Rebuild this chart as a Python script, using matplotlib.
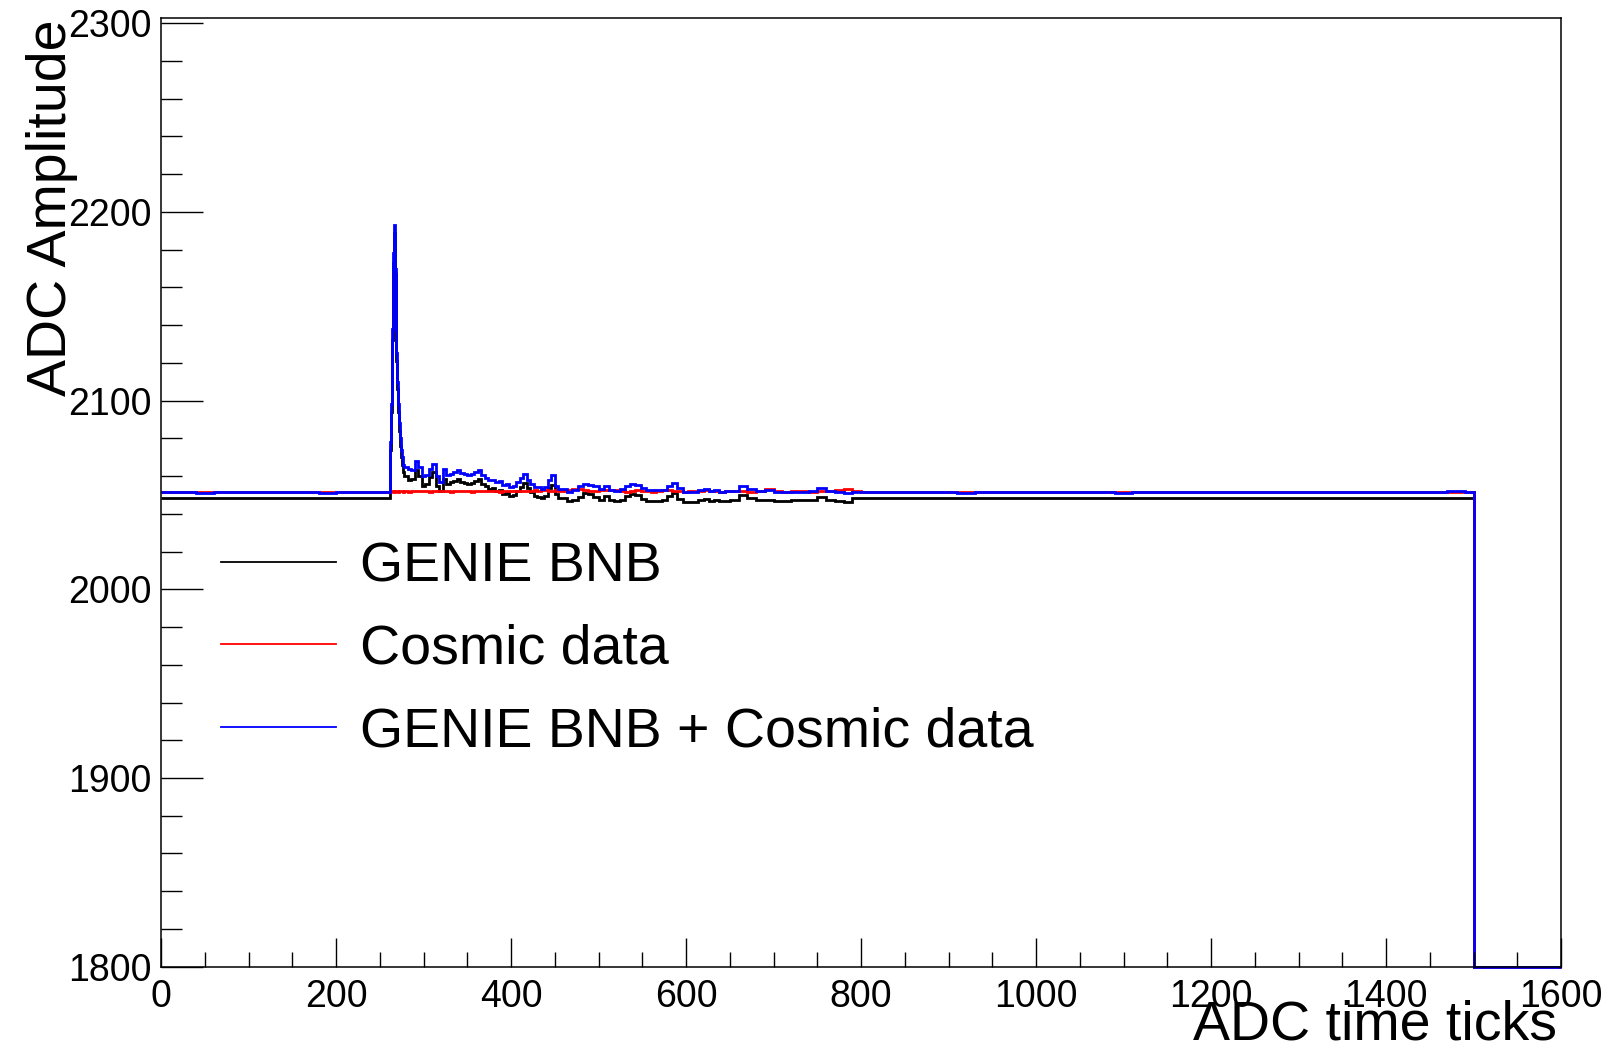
import numpy as np
import matplotlib
matplotlib.use('Agg')
import matplotlib.pyplot as plt
from matplotlib.ticker import MultipleLocator

#histogram bin edges (ADC time ticks), fine bins where the pulse is
bin_edges=np.concatenate([np.arange(0,262,20),
                          np.arange(262,278,1),
                          np.arange(278,458,4),
                          np.arange(458,650,6),
                          np.arange(650,810,10),
                          np.arange(810,1500,20),
                          [1500,1600]])

#GENIE BNB
bnb_values=([2048.2]*14+
            [2074,2094,2132,2173,2189,2167,2141,2121,2106,2094,2084,2076,2070,2066,2063,2062]+
            [2060,2058,2058.5,2063,2060,2055,2056,2059.5,2062,2055,
             2052,2058.5,2056,2057,2057.5,2058.5,2057,2056.5,2056,2056.5,
             2057.5,2058.5,2056,2054.5,2053,2053.5,2052,2052.5,2050.5,2051,
             2049.5,2050,2052,2054,2056.5,2053.5,2051.5,2049.5,2049,2048.5,
             2049.5,2053.5,2055.5,2050.5,2048.5]+
            [2048.5,2047,2047.2,2049,2051,2050.5,2049,2047.5,2049.5,2047.3,
             2046.8,2047.5,2049.5,2050.5,2050,2048,2047,2046.8,2047,2047.2,
             2049.5,2051,2048,2046.5,2046.3,2046.5,2047.3,2047.8,2047,2047.3,
             2046.6,2047]+
            [2047.5,2050,2048.5,2047.5,2047.3,2047,2047,2047.2,2047.3,2047.5,
             2049,2047.2,2046.8,2046.5,2048.2,2048.2]+
            [2048.2]*35+
            [0])

#Cosmic data
cosmic_values=([2051.4,2051.5,2051.6,2051.4,2051.5,2051.6,2051.5,2051.4,2051.6,2051.5,
                2051.5,2051.4,2051.6,2051.5]+
               [2051.8,2052.0,2051.9,2052.1,2051.8,2052.0,2052.2,2051.9,2052.0,2051.8,
                2052.1,2052.0,2051.9,2052.1,2052.0,2051.8]+
               [2052.0,2051.8,2052.2,2052.0,2051.9,2052.1,2052.0,2051.8,2052.1,2052.0,
                2052.2,2051.9,2052.0,2051.8,2052.1,2052.0,2051.9,2052.2,2052.0,2051.8,
                2052.1,2052.0,2051.9,2052.0,2052.2,2051.9,2052.0,2051.8,2052.1,2052.3,
                2052.0,2051.9,2052.1,2052.2,2052.0,2052.3,2052.1,2052.5,2052.3,2052.6,
                2052.4,2052.2,2052.3,2052.5,2052.2]+
               [2052.3,2052.6,2053.2,2053.4,2052.8,2052.2,2052.0,2052.4,2052.6,2052.8,
                2052.4,2052.0,2051.8,2052.2,2052.5,2052.3,2052.0,2051.8,2052.0,2052.4,
                2052.6,2052.2,2051.9,2051.8,2052.0,2051.9,2052.1,2052.4,2052.2,2052.0,
                2051.8,2052.0]+
               [2051.9,2052.0,2051.8,2052.2,2053.0,2052.2,2051.8,2051.9,2052.0,2051.8,
                2052.1,2052.0,2052.6,2053.0,2052.2,2051.8]+
               [2051.5,2051.4,2051.6,2051.5,2051.3,2051.6,2051.5,2051.7,2051.4,2051.5,
                2051.6,2051.4,2051.5,2051.6,2051.3,2051.5,2051.7,2051.5,2051.4,2051.6,
                2051.5,2051.6,2051.5,2051.4,2051.6,2051.5,2051.7,2051.4,2051.5,2051.6,
                2051.5,2051.4,2051.6,2051.7,2051.6]+
               [0])

#GENIE BNB + Cosmic data
overlay_values=([2051.3,2051.6,2051.2,2051.5,2051.4,2051.8,2051.3,2051.6,2051.5,2051.2,
                 2051.7,2051.4,2051.6,2051.5]+
                [2078,2098,2138,2178,2193,2170,2145,2125,2110,2098,2088,2080,2074,2070,2067,2066]+
                [2065,2064,2063,2068,2065,2060,2060.5,2064,2066.5,2060,
                 2057,2063.5,2060.5,2061,2062,2063,2061.5,2061,2060.5,2061.3,
                 2062,2063,2060.5,2059,2057.8,2058,2056.9,2057.5,2055.1,2056,
                 2054.3,2055,2057,2059,2061.3,2058,2056,2054.3,2054,2053.4,
                 2054.3,2058,2060.5,2055,2053.4]+
                [2053,2051.6,2052.4,2054.5,2056,2055.5,2054.5,2053,2054.5,2052.5,
                 2052,2053,2055,2056,2055.5,2053.5,2052.5,2052.5,2052.5,2052.8,
                 2055,2056.5,2053.5,2051.8,2051.6,2051.6,2052.5,2053,2052.3,2052.5,
                 2051.8,2052.3]+
                [2052,2054.5,2053,2052.2,2052.5,2051.8,2051.5,2051.6,2051.7,2052,
                 2053.5,2052,2051.4,2051,2051.3,2051.6]+
                [2051.4,2051.6,2051.3,2051.7,2051.5,2051.2,2051.6,2051.8,2051.4,2051.5,
                 2051.3,2051.7,2051.5,2051.6,2051.2,2051.5,2051.8,2051.4,2051.6,2051.3,
                 2051.5,2051.7,2051.4,2051.6,2051.5,2051.3,2051.8,2051.5,2051.6,2051.4,
                 2051.7,2051.5,2051.6,2051.9,2051.7]+
                [0])

labels=['GENIE BNB','Cosmic data','GENIE BNB + Cosmic data']
colors=['black','red','blue']

plt.rcParams['font.family']=['Liberation Sans','DejaVu Sans']

fig=plt.figure(figsize=(16.13,10.49),dpi=100)
ax=fig.add_axes([161/1613,1-966.7/1049,1400/1613,948.4/1049])

y_lo,y_hi=1800,2302.6

#empty bins are drawn on the lower frame like ROOT does
for values,color,label in zip([bnb_values,cosmic_values,overlay_values],colors,labels):
    
    shown=np.clip(np.array(values,dtype=float),y_lo,y_hi)
    
    ax.stairs(shown,bin_edges,baseline=None,color=color,lw=2.0,
              label=label,clip_on=False)

ax.set_xlim(0,1600)
ax.set_ylim(y_lo,y_hi)

#ticks
ax.xaxis.set_major_locator(MultipleLocator(200))
ax.xaxis.set_minor_locator(MultipleLocator(50))
ax.yaxis.set_major_locator(MultipleLocator(100))
ax.yaxis.set_minor_locator(MultipleLocator(20))

ax.tick_params(axis='x',which='major',direction='in',length=21,width=1,labelsize=27,pad=9)
ax.tick_params(axis='x',which='minor',direction='in',length=10.5,width=1)
ax.tick_params(axis='y',which='major',direction='in',length=30,width=1,labelsize=27,pad=7)
ax.tick_params(axis='y',which='minor',direction='in',length=15,width=1)

for spine in ax.spines.values():
    spine.set_linewidth(1.1)

#axis titles
fig.text(1557/1613,1-1040/1049,'ADC time ticks',fontsize=40,
         ha='right',va='baseline')
fig.text(66/1613,1-19/1049,'ADC Amplitude',fontsize=40,rotation=90,
         rotation_mode='anchor',ha='right',va='baseline')

#legend
legend=ax.legend(loc='center left',bbox_to_anchor=(220.7/1613,1-649.7/1049),
                 bbox_transform=fig.transFigure,frameon=False,fontsize=40,
                 handlelength=2.08,handletextpad=0.42,labelspacing=0.55,
                 borderpad=0,borderaxespad=0,
                 handles=[plt.Line2D([],[],color=c,lw=1.3) for c in colors],
                 labels=labels)

fig.savefig('out.png',dpi=100)
